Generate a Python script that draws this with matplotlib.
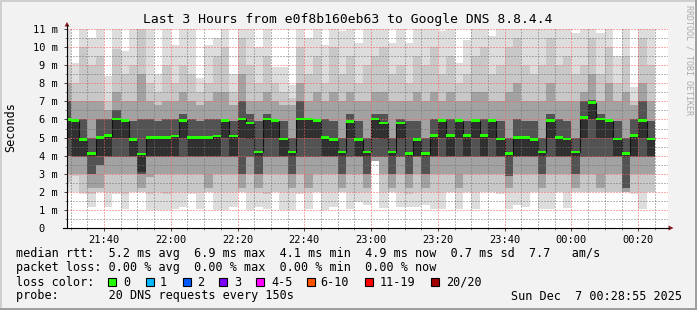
import numpy as np
import matplotlib
matplotlib.use("Agg")
import matplotlib.pyplot as plt
from matplotlib.patches import Rectangle, Polygon
from matplotlib.lines import Line2D

# ---------------- data (ms) ----------------
median = [6.0, 5.94, 4.89, 4.11, 5.0, 5.11, 6.04, 5.94, 4.89, 4.1, 5.0, 5.0, 5.0, 5.1, 5.95, 5.0, 5.0, 5.0, 5.1,
          5.94, 5.1, 6.04, 5.81, 4.2, 6.04, 5.94, 4.93, 4.2, 6.04, 6.04, 5.94, 5.0, 4.89, 4.2, 5.89, 4.89, 4.2,
          6.04, 5.81, 4.2, 5.81, 4.11, 4.89, 4.11, 5.11, 5.94, 5.11, 5.94, 5.11, 5.94, 5.11, 5.94, 4.93, 4.11, 5.0,
          5.0, 4.89, 4.2, 5.94, 5.0, 4.93, 4.2, 6.11, 6.93, 6.04, 5.94, 4.93, 4.11, 5.11, 5.94, 4.93]

hi1 = [11.6, 9.1, 11.6, 10.5, 11.6, 8.4, 11.6, 9.8, 11.6, 11.6, 11.6, 8.5, 11.6, 10.1, 11.6, 11.6, 8.3, 10.1, 10.5,
       11.6, 8.5, 11.6, 11.6, 10.0, 11.6, 8.9, 8.9, 7.9, 11.6, 10.5, 11.6, 10.1, 11.6, 10.9, 11.6, 10.2, 11.6,
       11.4, 11.6, 10.2, 11.6, 10.2, 11.6, 11.6, 11.6, 10.9, 11.6, 9.1, 10.4, 11.6, 11.6, 10.6, 11.6, 11.6, 11.6,
       11.6, 11.6, 11.6, 11.6, 11.6, 11.6, 10.8, 11.6, 11.6, 10.8, 11.6, 9.5, 11.6, 7.8, 11.6, 11.0]
hi2 = [9.0, 8.0, 10.0, 9.0, 9.5, 7.0, 9.9, 8.5, 9.0, 11.0, 8.0, 7.5, 9.0, 8.0, 9.0, 8.5, 7.5, 8.0, 9.5,
       10.0, 7.5, 10.5, 9.0, 8.0, 9.5, 8.0, 7.5, 7.2, 10.0, 8.5, 9.5, 8.0, 10.0, 8.5, 9.5, 8.0, 9.0,
       9.5, 10.0, 8.5, 9.0, 8.0, 9.5, 9.0, 10.0, 8.5, 9.5, 8.0, 8.5, 9.5, 10.0, 8.5, 9.0, 10.0, 10.5,
       9.0, 8.5, 9.0, 10.5, 9.0, 9.5, 8.5, 9.0, 10.5, 8.5, 10.0, 8.0, 9.5, 7.0, 10.5, 9.0]
hi3 = [8.0, 7.0, 7.0, 7.0, 7.0, 6.5, 7.5, 7.0, 7.0, 8.5, 7.0, 6.8, 7.0, 7.0, 7.5, 7.0, 6.8, 7.0, 7.5,
       7.5, 6.8, 8.5, 7.0, 7.0, 7.5, 7.0, 6.8, 6.8, 8.0, 7.0, 7.5, 7.0, 7.5, 7.0, 7.5, 7.0, 7.0,
       7.5, 7.5, 7.0, 7.0, 7.0, 7.5, 7.0, 7.5, 7.0, 7.5, 7.0, 7.0, 7.5, 7.5, 7.0, 7.0, 7.5, 8.0,
       7.0, 7.0, 7.0, 8.0, 7.0, 7.0, 7.0, 7.5, 8.5, 7.0, 8.0, 7.0, 7.5, 6.8, 8.0, 7.0]
hi4 = [7.0, 6.0, 6.0, 5.0, 6.0, 6.0, 6.5, 6.0, 5.9, 6.0, 6.0, 5.9, 6.0, 6.0, 6.3, 6.0, 5.9, 6.0, 6.0,
       6.0, 5.9, 7.0, 6.3, 5.9, 6.3, 6.0, 5.9, 5.0, 7.0, 6.0, 6.0, 6.0, 5.9, 5.0, 6.3, 5.9, 5.0,
       6.3, 6.3, 5.0, 6.0, 5.9, 5.9, 5.0, 6.0, 6.0, 6.0, 6.0, 5.9, 6.0, 6.0, 6.0, 5.9, 5.0, 6.0,
       5.9, 5.9, 5.0, 6.3, 6.0, 5.9, 5.0, 7.0, 7.1, 6.3, 6.0, 5.9, 5.0, 6.0, 7.0, 5.9]
lo5 = [5.0, 4.0, 4.0, 3.9, 4.0, 4.0, 5.0, 5.0, 4.0, 3.1, 4.0, 4.0, 4.0, 4.0, 5.0, 4.0, 4.0, 4.0, 4.0,
       5.0, 4.0, 5.0, 4.9, 3.9, 5.0, 5.0, 4.0, 3.9, 5.0, 5.0, 5.0, 4.0, 4.0, 3.9, 5.0, 4.0, 3.9,
       5.0, 4.9, 3.9, 4.9, 3.9, 4.0, 3.9, 4.0, 5.0, 4.0, 5.0, 4.0, 5.0, 4.0, 5.0, 4.0, 3.9, 4.0,
       4.0, 4.0, 3.9, 5.0, 4.0, 4.0, 3.9, 5.0, 6.0, 5.0, 5.0, 4.0, 3.9, 4.0, 5.0, 4.0]
lo4 = [4.0, 3.9, 3.9, 3.0, 3.5, 3.9, 3.9, 3.9, 3.9, 3.0, 3.9, 3.9, 3.9, 3.9, 3.9, 3.9, 3.9, 3.9, 3.9,
       3.9, 3.9, 3.0, 3.9, 3.0, 3.9, 3.9, 3.9, 3.0, 3.9, 3.9, 3.9, 3.9, 3.9, 3.0, 3.9, 3.9, 3.0,
       3.9, 3.9, 3.0, 3.9, 3.0, 3.9, 3.0, 3.9, 3.9, 3.9, 3.9, 3.9, 3.9, 3.9, 3.9, 3.9, 2.9, 3.9,
       3.9, 3.9, 3.0, 3.9, 3.9, 3.9, 3.0, 3.9, 3.9, 3.9, 3.9, 3.9, 2.2, 3.9, 3.9, 3.9]
lo3 = [3.0, 3.0, 3.0, 2.2, 2.2, 3.0, 3.0, 3.0, 3.0, 2.2, 2.8, 3.0, 3.0, 3.0, 3.0, 3.0, 3.0, 2.2, 3.0,
       3.0, 3.0, 2.2, 3.0, 2.2, 3.0, 3.0, 3.0, 2.2, 3.0, 2.2, 3.0, 3.0, 3.0, 2.2, 3.0, 3.0, 2.2,
       3.7, 3.0, 2.2, 3.0, 2.2, 3.0, 2.2, 3.0, 3.0, 3.0, 2.2, 3.0, 3.0, 3.0, 3.0, 3.0, 2.2, 3.0,
       3.0, 3.0, 2.2, 3.0, 3.0, 3.0, 2.2, 3.0, 3.0, 2.2, 3.0, 3.0, 2.0, 3.0, 3.0, 3.0]
lo2 = [2.5, 2.9, 2.0, 1.9, 2.0, 2.0, 2.0, 1.9, 2.0, 2.0, 1.9, 2.0, 1.9, 2.0, 2.0, 2.0, 2.0, 2.0, 2.0,
       2.0, 2.0, 2.0, 2.0, 2.0, 1.9, 2.0, 2.0, 2.0, 2.0, 2.0, 2.0, 2.0, 2.0, 2.0, 2.0, 2.0, 2.0,
       3.7, 2.0, 2.0, 2.0, 1.9, 2.0, 2.0, 2.0, 2.0, 2.0, 2.0, 2.0, 2.0, 2.0, 2.0, 2.0, 2.0, 2.0,
       2.0, 2.0, 2.0, 2.0, 2.0, 2.0, 2.0, 2.0, 2.0, 2.0, 2.0, 2.0, 2.0, 2.0, 2.0, 2.0]
lo1 = [2.0, 2.0, 1.9, 1.17, 2.0, 1.17, 1.9, 1.07, 2.0, 2.0, 1.0, 1.0, 1.0, 1.07, 1.17, 1.9, 1.07, 2.0, 1.0,
       1.0, 1.17, 2.0, 1.0, 1.17, 1.07, 2.0, 1.0, 1.0, 1.9, 1.07, 2.0, 1.0, 1.17, 2.0, 1.07, 1.44, 1.26,
       3.7, 1.1, 2.0, 1.17, 1.17, 1.17, 1.26, 1.07, 1.07, 2.0, 1.07, 2.0, 1.07, 2.0, 2.0, 1.9, 1.07, 1.26,
       1.17, 2.0, 1.07, 1.07, 2.0, 1.1, 2.0, 2.0, 2.0, 2.0, 2.0, 2.0, 2.0, 1.9, 1.07, 2.0]

x_tick_labels = ["21:40", "22:00", "22:20", "22:40", "23:00", "23:20", "23:40", "00:00", "00:20"]
y_tick_labels = ["0  ", "1 m", "2 m", "3 m", "4 m", "5 m", "6 m", "7 m", "8 m", "9 m", "10 m", "11 m"]

loss_labels = ["0", "1", "2", "3", "4-5", "6-10", "11-19", "20/20"]
loss_colors = ["#26ff00", "#00b8ff", "#0059ff", "#7e00ff", "#ff00ff", "#ff5500", "#ff0000", "#a10000"]

legend_lines = [
    "median rtt:  5.2 ms avg  6.9 ms max  4.1 ms min  4.9 ms now  0.7 ms sd  7.7   am/s",
    "packet loss: 0.00 % avg  0.00 % max  0.00 % min  0.00 % now",
    "loss color:",
    "probe:       20 DNS requests every 150s",
]
title = "Last 3 Hours from e0f8b160eb63 to Google DNS 8.8.4.4"
stamp = "Sun Dec  7 00:28:55 2025"

# ---------------- layout ----------------
W, H = 697, 310
MONO = "DejaVu Sans Mono"

def fx(x):
    return x / W

def fy(y):
    return 1 - y / H

fig = plt.figure(figsize=(W / 100, H / 100), dpi=100, facecolor="#f2f2f2")

# 3D-ish frame
fig.add_artist(Rectangle((0, 0), 1, 2 / H, transform=fig.transFigure, color="#9e9e9e", lw=0))
fig.add_artist(Rectangle((1 - 2 / W, 0), 2 / W, 1, transform=fig.transFigure, color="#9e9e9e", lw=0))
fig.add_artist(Rectangle((0, 1 - 2 / H), 1 - 2 / W, 2 / H, transform=fig.transFigure, color="#cfcfcf", lw=0))
fig.add_artist(Rectangle((0, 2 / H), 2 / W, 1 - 4 / H, transform=fig.transFigure, color="#cfcfcf", lw=0))

ax = fig.add_axes([fx(67), fy(228), fx(668) - fx(67), fy(29) - fy(228)])
ax.set_facecolor("white")

n = len(median)
start_min = 28 + 55 / 60.0             # 21:28:55 in minutes after 21:00
col_start = 27.5 + 2.5 * np.arange(n)  # 150 s steps
colw = 2.5

bands = [
    (lo1, hi1, "#dddddd"),
    (lo2, hi2, "#c8c8c8"),
    (lo3, hi3, "#a2a2a2"),
    (lo4, hi4, "#535353"),
    (lo5, median, "#303030"),
]
for lo, hi, c in bands:
    lo = np.array(lo); hi = np.array(hi)
    ax.bar(col_start, hi - lo, bottom=lo, width=colw, align="edge", color=c,
           linewidth=0, antialiased=False, zorder=1)

edges = np.append(col_start, col_start[-1] + colw)
ax.stairs(median, edges, baseline=None, color="#101010", lw=0.8, zorder=2)
med = np.array(median)
ax.bar(col_start, 0.13, bottom=med - 0.065, width=colw, align="edge",
       color=loss_colors[0], linewidth=0, antialiased=False, zorder=4)

ax.set_xlim(start_min, start_min + 180)
ax.set_ylim(0, 11)

ax.set_xticks(np.arange(40, 201, 20))
ax.set_xticklabels(x_tick_labels, family=MONO, fontsize=7.5)
ax.set_xticks(np.arange(30, 209, 5), minor=True)
ax.set_yticks(np.arange(0, 12, 1))
ax.set_yticklabels(y_tick_labels, family=MONO, fontsize=7.5)
ax.set_yticks(np.arange(0.5, 11, 0.5), minor=True)

ax.set_axisbelow(False)
ax.grid(which="minor", color=(0.45, 0.45, 0.45, 0.35), linestyle=(0, (1, 2)), lw=0.72, zorder=3)
ax.grid(which="major", color=(1.0, 0.35, 0.35, 0.5), linestyle=(0, (1, 2)), lw=0.72, zorder=3)
ax.tick_params(which="major", direction="out", length=2.2, width=0.7, color="#444444", pad=2.5)
ax.tick_params(which="minor", direction="out", length=1.5, width=0.7, color="#888888")
ax.tick_params(axis="y", pad=4.5)
for s in ax.spines.values():
    s.set_visible(False)

# axis lines with arrows
fig.add_artist(Line2D([fx(67), fx(67)], [fy(228), fy(25)], transform=fig.transFigure, color="black", lw=0.8))
fig.add_artist(Line2D([fx(63), fx(669)], [fy(228), fy(228)], transform=fig.transFigure, color="black", lw=0.8))
fig.add_artist(Polygon([(fx(64.5), fy(26.5)), (fx(69.5), fy(26.5)), (fx(67), fy(22))], closed=True,
                       transform=fig.transFigure, color="#8b1a1a", lw=0))
fig.add_artist(Polygon([(fx(668.5), fy(225.5)), (fx(668.5), fy(230.5)), (fx(673.5), fy(228))], closed=True,
                       transform=fig.transFigure, color="#8b1a1a", lw=0))

# texts
fig.text(fx(348), fy(19), title, family=MONO, fontsize=9.4, ha="center", va="center", color="#000000")
fig.text(fx(11), fy(127), "Seconds", family=MONO, fontsize=8.5, ha="center", va="center", rotation=90)
fig.text(fx(688.5), fy(60), "RRDTOOL / TOBI OETIKER", family=MONO, fontsize=6, ha="center", va="center",
         rotation=270, color="#aaaaaa")

ys = [254, 268, 282, 296]
for y, s in zip(ys, legend_lines):
    fig.text(fx(16), fy(y), s, family=MONO, fontsize=8.5, ha="left", va="center")
fig.text(fx(682), fy(296), stamp, family=MONO, fontsize=8.5, ha="right", va="center")

box_x = [108, 146, 183, 219, 256, 307, 365, 431]
lab_x = [123, 160, 197, 234, 271, 320, 380, 446]
for bx, lx, lab, c in zip(box_x, lab_x, loss_labels, loss_colors):
    fig.add_artist(Rectangle((fx(bx), fy(286)), 8 / W, 8 / H, transform=fig.transFigure,
                             facecolor=c, edgecolor="black", lw=0.8))
    fig.text(fx(lx), fy(282), lab, family=MONO, fontsize=8.5, ha="left", va="center")

fig.savefig("out.png", dpi=100, facecolor=fig.get_facecolor())
